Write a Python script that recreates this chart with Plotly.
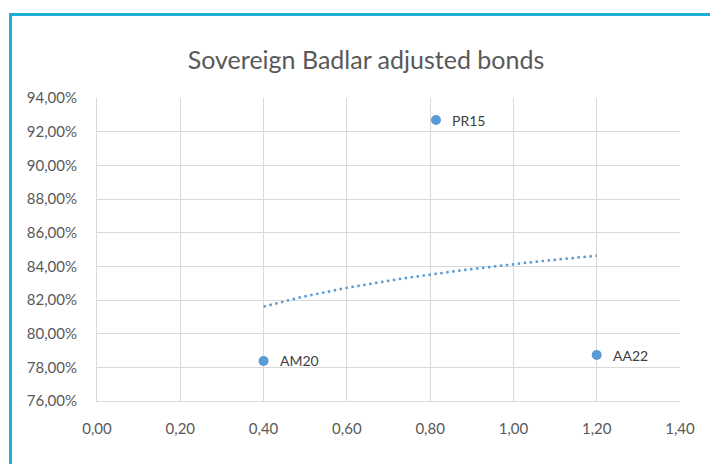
import numpy as np
import plotly.graph_objects as go

# Bond data: duration (x) vs adjusted yield (y, fraction)
bonds = ["AM20", "PR15", "AA22"]
duration = [0.40, 0.814, 1.20]
adj_yield = [0.7838, 0.9269, 0.7873]

# Axis ticks
x_ticks = [0.0, 0.2, 0.4, 0.6, 0.8, 1.0, 1.2, 1.4]
y_ticks = [0.76, 0.78, 0.80, 0.82, 0.84, 0.86, 0.88, 0.90, 0.92, 0.94]

W, H = 710, 464
L, R, T, B = 97, 30, 98, 63
font_family = "Lato, 'Open Sans', sans-serif"
blue = "#5B9BD5"
grey_text = "#595959"

# Logarithmic trendline fitted to the points
b, a = np.polyfit(np.log(duration), adj_yield, 1)
tx = np.linspace(min(duration), max(duration), 60)
ty = a + b * np.log(tx)

fig = go.Figure()
fig.add_trace(go.Scatter(
    x=tx, y=ty, mode="lines",
    line=dict(color=blue, width=2.5, dash="2.5px,3.5px"),
    hoverinfo="skip", showlegend=False,
))
fig.add_trace(go.Scatter(
    x=duration, y=adj_yield, mode="markers",
    marker=dict(color=blue, size=10),
    showlegend=False,
))

for name, xv, yv in zip(bonds, duration, adj_yield):
    fig.add_annotation(
        x=xv, y=yv, text=name, showarrow=False,
        xanchor="left", yanchor="middle", xshift=14,
        font=dict(family=font_family, size=14, color="#404040"),
    )

# Frame around the chart area (extends past the visible page on right/bottom)
pw, ph = W - L - R, H - T - B
def px_x(p):
    return (p - L) / pw
def px_y(p):
    return (H - B - p) / ph
fig.add_shape(
    type="rect", xref="paper", yref="paper",
    x0=px_x(10.5), x1=px_x(W + 20), y0=px_y(14.5), y1=px_y(H + 20),
    line=dict(color="#1CAFD6", width=3), fillcolor="rgba(0,0,0,0)",
)

fig.update_layout(
    width=W, height=H,
    margin=dict(l=L, r=R, t=T, b=B),
    paper_bgcolor="white", plot_bgcolor="white",
    separators=",.",
    title=dict(
        text="Sovereign Badlar adjusted bonds",
        x=(366) / W, xanchor="center", y=1 - 60 / H, yanchor="middle",
        font=dict(family=font_family, size=25, color=grey_text),
    ),
    font=dict(family=font_family, color=grey_text),
)
fig.update_xaxes(
    range=[0, 1.4], tickvals=x_ticks, tickformat=".2f",
    showgrid=True, gridcolor="#D9D9D9", gridwidth=1,
    zeroline=False, showline=True, linecolor="#D9D9D9",
    ticks="", ticklabelstandoff=14,
    tickfont=dict(family=font_family, size=15, color=grey_text),
)
fig.update_yaxes(
    range=[0.76, 0.94], tickvals=y_ticks, tickformat=".2%",
    showgrid=True, gridcolor="#D9D9D9", gridwidth=1,
    zeroline=False, showline=True, linecolor="#D9D9D9",
    ticks="", ticklabelstandoff=16,
    tickfont=dict(family=font_family, size=15, color=grey_text),
)

fig.write_html("out.html")
